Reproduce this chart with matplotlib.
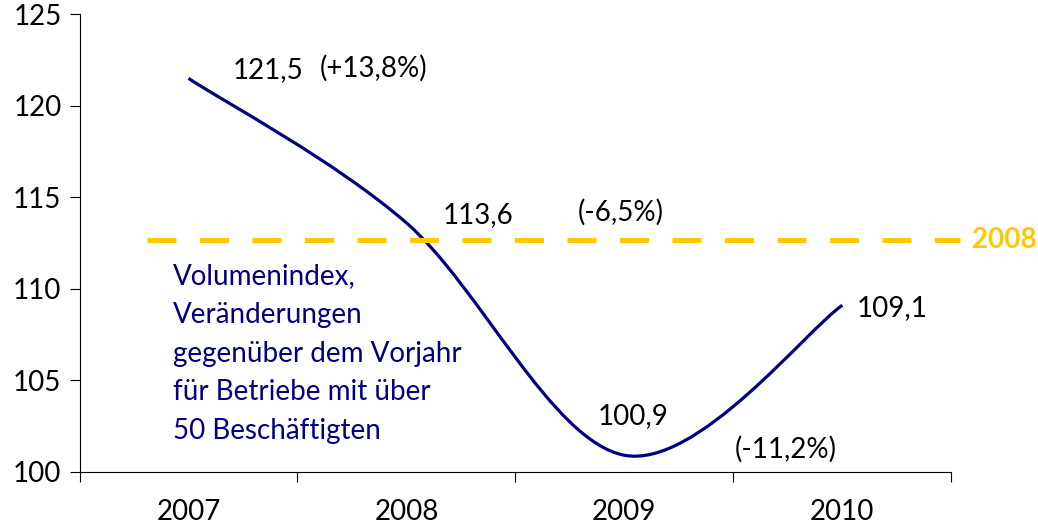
import numpy as np
import matplotlib
matplotlib.use("Agg")
import matplotlib.pyplot as plt
from matplotlib.path import Path
from matplotlib.patches import PathPatch

years = ["2007", "2008", "2009", "2010"]
index_values = [121.5, 113.6, 100.9, 109.1]
change_labels = ["(+13,8%)", "(-6,5%)", "(-11,2%)"]
level_2008 = 112.69
note = "Volumenindex,\nVeränderungen\ngegenüber dem Vorjahr\nfür Betriebe mit über\n50 Beschäftigten"

NAVY = "#000080"
GOLD = "#FFC800"

plt.rcParams["font.family"] = ["Lato", "DejaVu Sans"]

fig = plt.figure(figsize=(10.38, 5.28), dpi=100)
ax = fig.add_axes([0.0766, 0.1066, 0.8399, 0.8663])

# smoothed line (Excel-like bezier through the points)
pts = np.column_stack([np.arange(len(index_values)), index_values]).astype(float)
ext = np.vstack([pts[0], pts, pts[-1]])
verts = [tuple(pts[0])]
codes = [Path.MOVETO]
for i in range(len(pts) - 1):
    p0, p1, p2, p3 = ext[i], ext[i + 1], ext[i + 2], ext[i + 3]
    c1 = p1 + (p2 - p0) / 6
    c2 = p2 - (p3 - p1) / 6
    verts += [tuple(c1), tuple(c2), tuple(p2)]
    codes += [Path.CURVE4] * 3
ax.add_patch(PathPatch(Path(verts, codes), facecolor="none", edgecolor=NAVY,
                       lw=2.3, capstyle="butt"))

# 2008 reference level
ax.plot([-0.190, 3.539], [level_2008, level_2008], color=GOLD, lw=3.6,
        dashes=(5.8, 4.7), clip_on=False, dash_capstyle="butt")
ax.text(3.597, level_2008, "2008", color=GOLD, fontsize=20, fontweight="bold",
        va="center", ha="left", clip_on=False)

fs = 20
fmt = lambda v: f"{v:.1f}".replace(".", ",")
# value labels
ax.text(0.204, 121.96, fmt(index_values[0]), fontsize=fs, va="center")
ax.text(1.167, 114.03, fmt(index_values[1]), fontsize=fs, va="center")
ax.text(1.878, 103.05, fmt(index_values[2]), fontsize=fs, va="center")
ax.text(3.067, 108.92, fmt(index_values[3]), fontsize=fs, va="center")
# change labels
ax.text(0.603, 122.07, change_labels[0], fontsize=fs, va="center")
ax.text(1.786, 114.2, change_labels[1], fontsize=fs, va="center")
ax.text(2.507, 101.24, change_labels[2], fontsize=fs, va="center")

ax.text(-0.071, 106.46, note, color=NAVY, fontsize=fs, va="center", ha="left",
        linespacing=1.6)

ax.set_xlim(-0.5, 3.5)
ax.set_ylim(100, 125)
ax.set_yticks([100, 105, 110, 115, 120, 125])
ax.tick_params(axis="y", labelsize=fs, length=7, width=0.8, pad=6)
ax.set_xticks(np.arange(-0.5, 4, 1))
ax.set_xticklabels([])
ax.set_xticks(np.arange(len(years)), minor=True)
ax.set_xticklabels(years, minor=True)
ax.tick_params(axis="x", which="major", length=7, width=0.8)
ax.tick_params(axis="x", which="minor", length=0, labelsize=fs, pad=20)
for s in ["top", "right"]:
    ax.spines[s].set_visible(False)
for s in ["left", "bottom"]:
    ax.spines[s].set_linewidth(0.8)

fig.savefig("out.png", dpi=100)
